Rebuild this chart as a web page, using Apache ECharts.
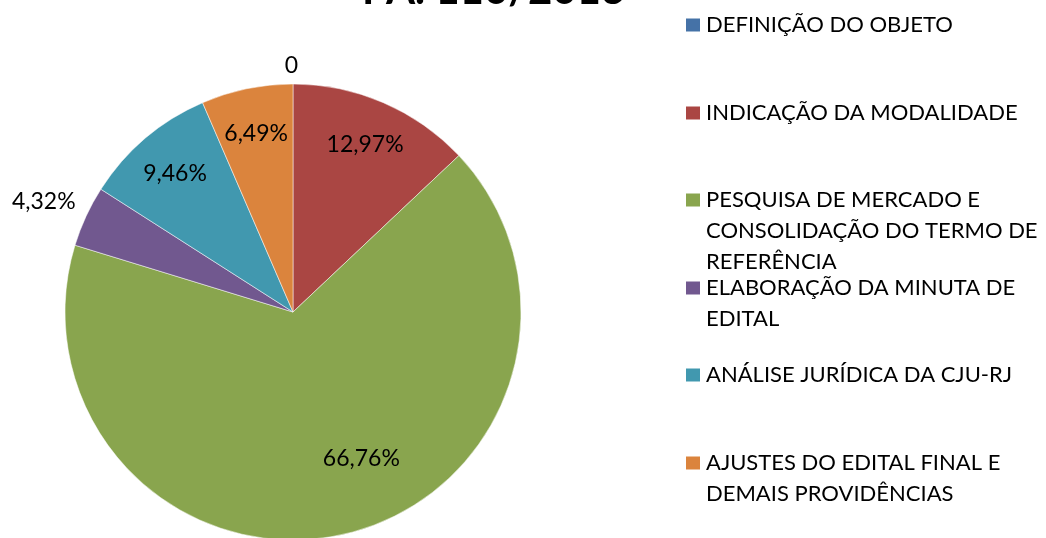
<!DOCTYPE html>
<html>
<head>
<meta charset="utf-8">
<style>
  html, body { margin: 0; padding: 0; background: #fff; }
  #myChart { width: 1046px; height: 538px; }
</style>
<script src="https://cdn.jsdelivr.net/npm/echarts@6/dist/echarts.min.js"></script>
</head>
<body>
<div id="myChart"></div>
<script>
  // dados (percentual por etapa)
  const categories = [
    'DEFINIÇÃO DO OBJETO',
    'INDICAÇÃO DA MODALIDADE',
    'PESQUISA DE MERCADO E CONSOLIDAÇÃO DO TERMO DE REFERÊNCIA',
    'ELABORAÇÃO DA MINUTA DE EDITAL',
    'ANÁLISE JURÍDICA DA CJU-RJ',
    'AJUSTES DO EDITAL FINAL E DEMAIS PROVIDÊNCIAS'
  ]
  const shares = [0, 12.97, 66.76, 4.32, 9.46, 6.49]
  // texto da legenda com quebra de linha como no original
  const legendLabels = [
    'DEFINIÇÃO DO OBJETO',
    'INDICAÇÃO DA MODALIDADE',
    'PESQUISA DE MERCADO E\nCONSOLIDAÇÃO DO TERMO DE\nREFERÊNCIA',
    'ELABORAÇÃO DA MINUTA DE\nEDITAL',
    'ANÁLISE JURÍDICA DA CJU-RJ',
    'AJUSTES DO EDITAL FINAL E\nDEMAIS PROVIDÊNCIAS'
  ]
  const colors = ['#4572A7', '#AA4643', '#89A54E', '#71588F', '#4198AF', '#DB843D']

  const FONT = 'Lato'
  const LINE = 31
  const legendCenters = [25, 113, 200, 288, 375, 463] // centro do ícone de cada item

  // ajustes finos dos rótulos (o Excel usa "melhor ajuste")
  const labelTweaks = {
    0: { position: 'outside', offset: [10, -12] },
    2: { offset: [27, -31] },
    3: { position: 'outside', offset: [0, -12] }
  }

  function fmt (v) {
    if (v === 0) return '0'
    return v.toFixed(2).replace('.', ',') + '%'
  }

  let myChart = echarts.init(document.getElementById('myChart'))

  // uma legenda por item, para manter o espaçamento fixo do Excel
  // linhas vazias antes do texto deixam o ícone alinhado com a 1a linha
  let legends = categories.map((name, i) => {
    let n = legendLabels[i].split('\n').length
    let h = (2 * n - 1) * LINE
    return {
      orient: 'vertical',
      left: 684,
      top: legendCenters[i] - h / 2,
      padding: 0,
      itemWidth: 16,
      itemHeight: 15,
      icon: 'rect',
      selectedMode: false,
      data: [name],
      formatter: () => '\n'.repeat(n - 1) + legendLabels[i],
      textStyle: {
        fontFamily: FONT,
        fontSize: 22,
        color: '#000',
        lineHeight: LINE
      }
    }
  })

  let option = {
    backgroundColor: '#fff',
    color: colors,
    animation: false,
    title: {
      text: 'PA. 110/2013',
      left: 362,
      top: -31,
      padding: 0,
      textStyle: { fontFamily: FONT, fontWeight: 'bold', fontSize: 42, color: '#000', lineHeight: 42 }
    },
    legend: legends,
    series: [
      {
        name: 'etapas',
        type: 'pie',
        center: [293, 312],
        radius: 228,
        startAngle: 90,
        clockwise: true,
        avoidLabelOverlap: false,
        label: { show: false },
        labelLine: { show: false },
        itemStyle: { borderColor: '#fff', borderWidth: 0.5 },
        data: categories.map((name, i) => ({ name: name, value: shares[i] }))
      },
      {
        // série só para posicionar os rótulos como no Excel
        name: 'rotulos',
        type: 'pie',
        silent: true,
        center: [293, 312],
        radius: [130, 228],
        startAngle: 90,
        clockwise: true,
        avoidLabelOverlap: false,
        itemStyle: { color: 'rgba(0,0,0,0)' },
        label: {
          show: true,
          position: 'inside',
          fontFamily: FONT,
          fontSize: 23,
          color: '#000',
          formatter: p => fmt(p.value)
        },
        labelLine: { show: false, length: 6, length2: 0 },
        data: categories.map((name, i) => {
          let item = { name: name, value: shares[i] }
          if (labelTweaks[i]) item.label = labelTweaks[i]
          return item
        })
      }
    ]
  }
  myChart.setOption(option)
</script>
</body>
</html>
